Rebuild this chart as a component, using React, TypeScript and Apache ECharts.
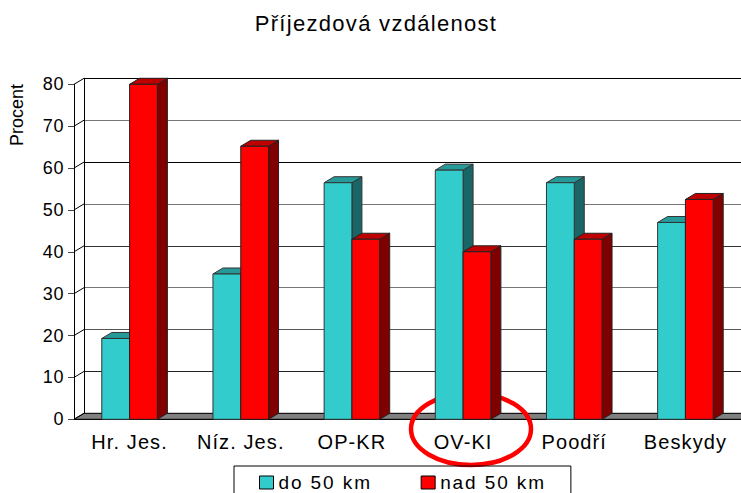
import React, { useEffect, useRef } from "react";
import * as echarts from "echarts";

const categories = ["Hr. Jes.", "Níz. Jes.", "OP-KR", "OV-KI", "Poodří", "Beskydy"];
const near = [19.3, 34.7, 56.5, 59.5, 56.5, 47];
const far = [80, 65.2, 43, 40, 43, 52.5];
const yTicks = [0, 10, 20, 30, 40, 50, 60, 70, 80];
const gridShades = ["#000", "#222", "#555", "#777", "#333", "#777", "#000", "#777", "#000"];
const titleText = "Příjezdová vzdálenost";
const yName = "Procent";
const nearName = "do 50 km";
const farName = "nad 50 km";

const DX = 10;
const DY = 6;
const FONT = '"Liberation Sans", Arial, sans-serif';

const bar3d = (slot: number, front: string, top: string, side: string, stroke: string) =>
  (_p: any, api: any) => {
    const i = api.value(0);
    const [cx, yTop] = api.coord([i, api.value(1)]);
    const [, yBase] = api.coord([i, 0]);
    const w = api.size([1, 0])[0] * 0.25;
    const x0 = cx - w + slot * w;
    const x1 = x0 + w;
    const style = (fill: string) => ({ fill, stroke, lineWidth: 1 });
    return {
      type: "group",
      children: [
        { type: "polygon", shape: { points: [[x1, yTop], [x1 + DX, yTop - DY], [x1 + DX, yBase - DY], [x1, yBase]] }, style: style(side) },
        { type: "polygon", shape: { points: [[x0, yTop], [x0 + DX, yTop - DY], [x1 + DX, yTop - DY], [x1, yTop]] }, style: style(top) },
        { type: "rect", shape: { x: x0, y: yTop, width: w, height: yBase - yTop }, style: style(front) },
      ],
    };
  };

const walls = (params: any, api: any) => {
  const g = params.coordSys;
  const children: any[] = [
    {
      type: "polygon",
      shape: { points: [[g.x, g.y + g.height], [g.x + DX, g.y + g.height - DY], [g.x + g.width + DX, g.y + g.height - DY], [g.x + g.width, g.y + g.height]] },
      style: { fill: "#808080", stroke: "#000", lineWidth: 1 },
    },
  ];
  yTicks.forEach((v) => {
    const [, y] = api.coord([0, v]);
    children.push({
      type: "line",
      shape: { x1: g.x, y1: y, x2: g.x + DX, y2: y - DY },
      style: { stroke: "#000", lineWidth: 1 },
    });
  });
  return { type: "group", children };
};

export default function App() {
  const ref = useRef<HTMLDivElement>(null);
  useEffect(() => {
    document.body.style.margin = "0";
    const chart = echarts.init(ref.current!, null, { renderer: "svg" });
    chart.setOption({
      animation: false,
      backgroundColor: "#fff",
      title: {
        text: titleText,
        left: 371,
        top: 7,
        textAlign: "center",
        textStyle: { fontFamily: FONT, fontSize: 22, fontWeight: "normal", color: "#000" },
      },
      legend: {
        data: [nearName, farName],
        left: 234,
        top: 466,
        padding: [7, 42, 30, 25],
        itemWidth: 14,
        itemHeight: 13,
        itemGap: 64,
        itemStyle: { borderColor: "#000", borderWidth: 1 },
        borderColor: "#000",
        borderWidth: 1,
        icon: "rect",
        textStyle: { fontFamily: FONT, fontSize: 19, color: "#000", padding: 0 },
      },
      grid: [
        { left: 74, top: 84.3, width: 667, height: 335, containLabel: false },
        { left: 84, top: 78.3, width: 667, height: 335, containLabel: false },
      ],
      xAxis: [
        {
          type: "category",
          gridIndex: 0,
          data: categories,
          axisLine: { lineStyle: { color: "#000" } },
          axisTick: { length: 6, lineStyle: { color: "#000" }, alignWithLabel: false },
          axisLabel: { fontFamily: FONT, fontSize: 20, color: "#000", margin: 13, interval: 0 },
        },
        { type: "category", gridIndex: 1, data: categories, show: false },
      ],
      yAxis: [
        {
          type: "value",
          gridIndex: 0,
          min: 0,
          max: 80,
          interval: 10,
          axisLine: { show: true, lineStyle: { color: "#000" } },
          axisTick: { show: true, length: 6, lineStyle: { color: "#444" } },
          axisLabel: { fontFamily: FONT, fontSize: 18, color: "#000", margin: 10 },
          splitLine: { show: false },
        },
        {
          type: "value",
          gridIndex: 1,
          min: 0,
          max: 80,
          interval: 10,
          axisLine: { show: true, lineStyle: { color: "#000" } },
          axisTick: { show: false },
          axisLabel: { show: false },
          splitLine: { show: true, lineStyle: { color: gridShades, width: 1 } },
        },
      ],
      graphic: [
        {
          type: "ellipse",
          z: 3,
          shape: { cx: 471, cy: 429, rx: 60, ry: 36 },
          style: { fill: "none", stroke: "#ff0000", lineWidth: 4.5 },
        },
        {
          type: "text",
          z: 10,
          x: 17,
          y: 115,
          rotation: Math.PI / 2,
          style: { text: yName, fill: "#000", font: `18px ${FONT}`, textAlign: "center", textVerticalAlign: "middle" },
        },
      ],
      series: [
        {
          type: "custom",
          name: "walls",
          xAxisIndex: 0,
          yAxisIndex: 0,
          z: 1,
          silent: true,
          clip: false,
          data: [[0, 0]],
          encode: { x: 0, y: 1 },
          renderItem: walls,
        },
        {
          type: "custom",
          name: nearName,
          xAxisIndex: 0,
          yAxisIndex: 0,
          z: 5,
          clip: false,
          itemStyle: { color: "#33CCCC" },
          data: near.map((v, i) => [i, v]),
          encode: { x: 0, y: 1 },
          renderItem: bar3d(0, "#33CCCC", "#269999", "#1A6666", "#333"),
        },
        {
          type: "custom",
          name: farName,
          xAxisIndex: 0,
          yAxisIndex: 0,
          z: 5,
          clip: false,
          itemStyle: { color: "#FF0000" },
          data: far.map((v, i) => [i, v]),
          encode: { x: 0, y: 1 },
          renderItem: bar3d(1, "#FF0000", "#BF0000", "#800000", "#222"),
        },
      ],
    });
    const spacing: Record<string, number> = { [titleText]: 1.3, [nearName]: 1.9, [farName]: 1.9 };
    categories.forEach((c) => (spacing[c] = 1.1));
    yTicks.forEach((v) => (spacing[String(v)] = 0.6));
    ref.current!.querySelectorAll("text").forEach((t) => {
      const s = spacing[t.textContent || ""];
      if (s) (t as any).style.letterSpacing = s + "px";
    });
    return () => chart.dispose();
  }, []);
  return <div ref={ref} style={{ width: 741, height: 493 }} />;
}
